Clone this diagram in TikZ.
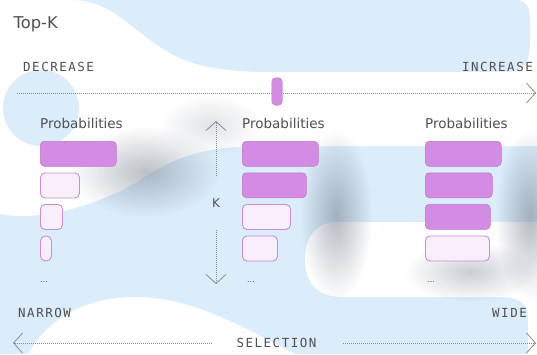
\documentclass[tikz,border=0pt]{standalone}
\usepackage{fontspec}
\setmainfont{DejaVu Sans}
\newfontfamily\capsfont[LetterSpace=12]{DejaVu Sans Mono}
\usetikzlibrary{arrows.meta,fadings}
\definecolor{bgblue}{RGB}{219,236,250}
\definecolor{purp}{RGB}{212,139,227}
\definecolor{purpedge}{RGB}{184,122,198}
\definecolor{pale}{RGB}{248,239,250}
\definecolor{paleedge}{RGB}{203,140,219}
\definecolor{txt}{RGB}{80,80,80}
\definecolor{dotc}{RGB}{140,140,140}
\definecolor{shadowc}{RGB}{105,118,132}
\tikzfading[name=softblob, inner color=transparent!0, outer color=transparent!100]
\tikzset{
  baron/.style={draw=purpedge, line width=0.5pt, fill=purp, rounded corners=4pt,
    minimum height=25pt, inner sep=0pt, anchor=north west},
  baroff/.style={draw=paleedge, line width=0.9pt, fill=pale, rounded corners=4.5pt,
    minimum height=25pt, inner sep=0pt, anchor=north west},
  lbl/.style={font=\fontsize{13.5}{15}\selectfont, text=txt, anchor=base west, inner sep=0pt},
  caps/.style={font=\capsfont\fontsize{12.5}{14}\selectfont, text=txt, inner sep=0pt},
  more/.style={font=\fontsize{8}{9}\selectfont, text=txt, anchor=base west, inner sep=0pt},
  dotline/.style={draw=dotc, line width=0.8pt, dash pattern=on 0.7pt off 1.3pt},
  chev/.style={-{Straight Barb[length=9pt,width=20pt,line width=0.8pt]}},
  blob/.style={fill=shadowc, path fading=softblob}
}
\begin{document}
\begin{tikzpicture}[x=1pt,y=-1pt]
\useasboundingbox (0,0) rectangle (537,354);
% background
\fill[bgblue] (0,0) rectangle (537,354);
\fill[white] (0,0) -- (537,0) -- (537,146) -- (260,146)
  .. controls (200,147) and (175,157) .. (140,180)
  .. controls (100,205) and (40,222) .. (0,214) -- cycle;
\fill[bgblue] (72,0) .. controls (120,0) and (140,45) .. (190,62)
  .. controls (215,70) and (240,72) .. (270,72) -- (505,72)
  .. controls (525,72) and (530,62) .. (530,40) -- (530,18)
  .. controls (530,6) and (525,0) .. (515,0) -- cycle;
\fill[bgblue] (41,108) circle[radius=38pt];
\fill[white] (337,222) -- (537,222) -- (537,354) -- (528,354) -- (528,318)
  .. controls (528,302) and (518,297) .. (500,297) -- (342,297)
  .. controls (320,297) and (305,285) .. (305,260)
  .. controls (305,235) and (318,222) .. (337,222) -- cycle;
\fill[white] (28,354) .. controls (50,315) and (90,297) .. (135,297)
  .. controls (190,297) and (240,325) .. (295,354) -- cycle;
% soft shadows
\fill[blob, fill opacity=0.45] (145,172) ellipse [x radius=75pt, y radius=45pt];
\fill[blob, fill opacity=0.5] (336,215) ellipse [x radius=36pt, y radius=85pt];
\fill[blob, fill opacity=0.5] (530,215) ellipse [x radius=35pt, y radius=85pt];
\fill[blob, fill opacity=0.35] (470,272) ellipse [x radius=65pt, y radius=30pt];
\fill[blob, fill opacity=0.2] (210,125) ellipse [x radius=50pt, y radius=30pt];

% title and scale labels
\node[font=\fontsize{16.3}{18}\selectfont, text=txt, anchor=base west, inner sep=0pt] (title) at (13.5,28) {Top-K};
\node[caps, anchor=base west] (dec) at (23,71) {DECREASE};
\node[caps, anchor=base east] (inc) at (533,71) {INCREASE};
\node[caps, anchor=base west] (nar) at (18,317) {NARROW};
\node[caps, anchor=base east] (wid) at (527,317) {WIDE};
\node[caps, anchor=base] (sel) at (276.5,347.5) {SELECTION};

% top slider
\coordinate (tl) at (17,93);
\coordinate (tr) at (536,93);
\draw[dotline, chev] (tl) -- (tr);
\node[fill=purp, draw=purpedge, line width=0.4pt, rounded corners=4pt,
  minimum width=10.5pt, minimum height=27.5pt, inner sep=0pt] (thumb) at (277,91.5) {};

% bottom selection arrows
\coordinate (bl0) at (212,343);
\coordinate (bl1) at (13,343);
\coordinate (br0) at (343,343);
\coordinate (br1) at (536,343);
\draw[dotline, chev] (bl0) -- (bl1);
\draw[dotline, chev] (br0) -- (br1);

% K arrow
\node[font=\fontsize{12}{14}\selectfont, text=txt, inner sep=0pt] (k) at (216,203) {K};
\coordinate (ku0) at (216,176);
\coordinate (ku1) at (216,121);
\coordinate (kd0) at (216,230);
\coordinate (kd1) at (216,284);
\draw[dotline, chev] (ku0) -- (ku1);
\draw[dotline, chev] (kd0) -- (kd1);

% column 1
\node[lbl] (p1) at (40,128) {Probabilities};
\node[baron, minimum width=76pt] (a1) at (40,141) {};
\node[baroff, minimum width=39pt] (a2) at (40,172.5) {};
\node[baroff, minimum width=22pt] (a3) at (40,204) {};
\node[baroff, minimum width=11pt, rounded corners=5pt] (a4) at (40,235.5) {};
\node[more] (m1) at (40,282) {...};

% column 2
\node[lbl] (p2) at (242,128) {Probabilities};
\node[baron, minimum width=76pt] (b1) at (242,141) {};
\node[baron, minimum width=64pt] (b2) at (242,172.5) {};
\node[baroff, minimum width=48pt] (b3) at (242,204) {};
\node[baroff, minimum width=35pt] (b4) at (242,235.5) {};
\node[more] (m2) at (247,282) {...};

% column 3
\node[lbl] (p3) at (425,128) {Probabilities};
\node[baron, minimum width=76pt] (c1) at (425,141) {};
\node[baron, minimum width=67pt] (c2) at (425,172.5) {};
\node[baron, minimum width=65pt] (c3) at (425,204) {};
\node[baroff, minimum width=64pt] (c4) at (425,235.5) {};
\node[more] (m3) at (427,282) {...};
\end{tikzpicture}
\end{document}
